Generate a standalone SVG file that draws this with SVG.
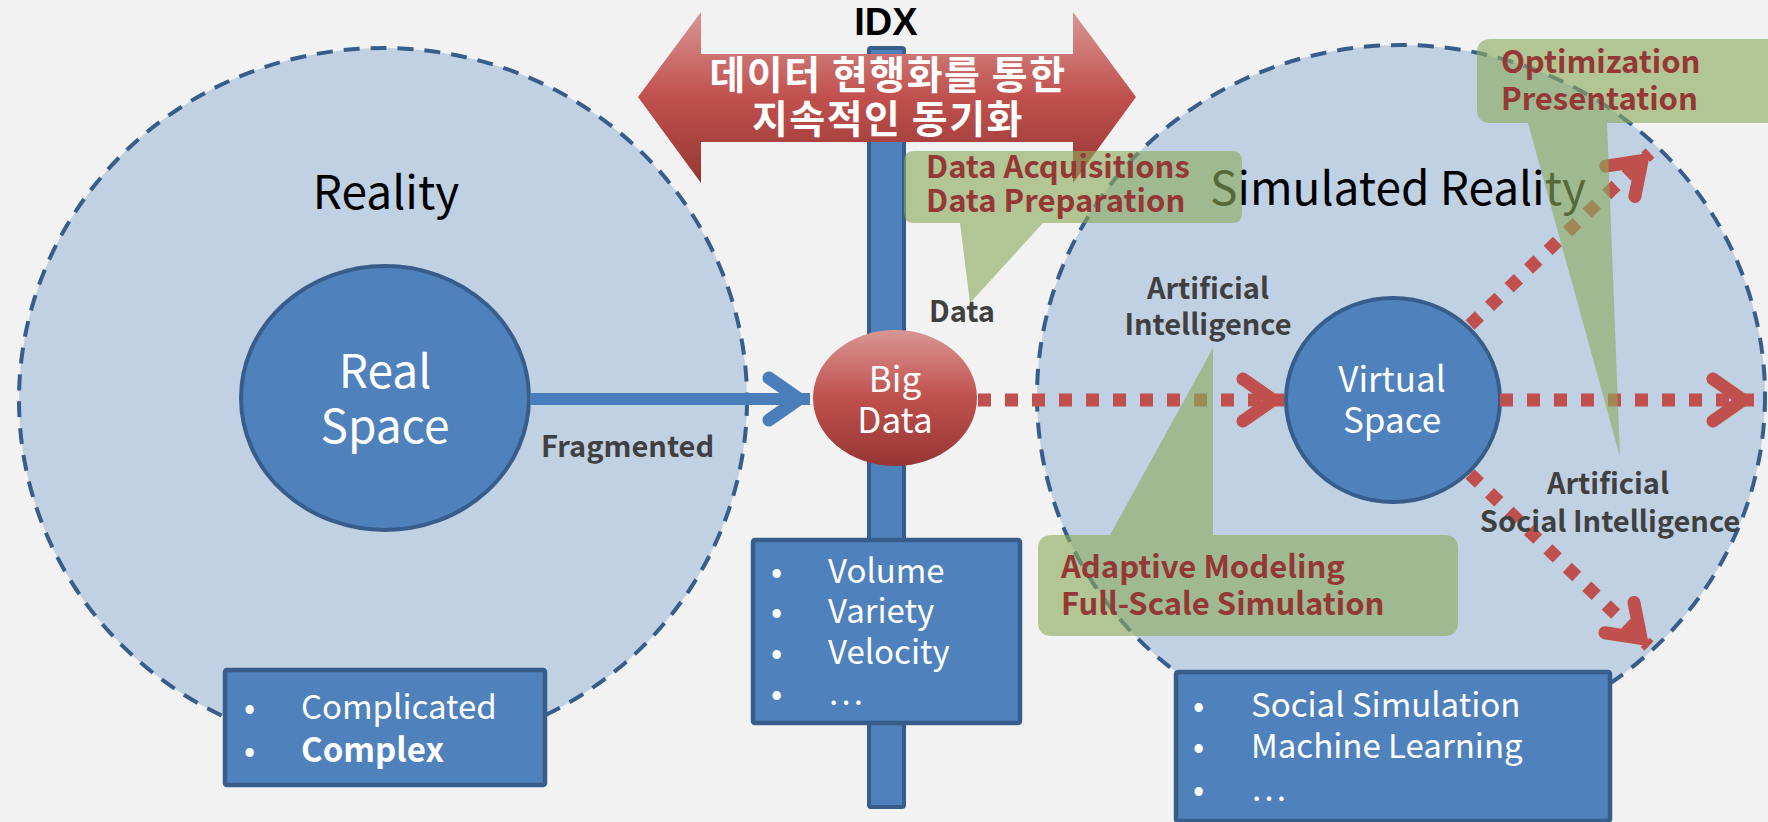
<svg xmlns="http://www.w3.org/2000/svg" width="1768" height="822" viewBox="0 0 1768 822">
  <defs>
    <linearGradient id="redGrad" x1="0" y1="0" x2="0" y2="1">
      <stop offset="0" stop-color="#d99694"/>
      <stop offset="0.5" stop-color="#c0504d"/>
      <stop offset="1" stop-color="#953735"/>
    </linearGradient>
    <marker id="chevRed" markerUnits="userSpaceOnUse" viewBox="-60 -40 80 80" markerWidth="80" markerHeight="80" refX="0" refY="0" orient="auto" overflow="visible">
      <path d="M-41,-21 L-11,0 L-41,21" fill="none" stroke="#c0504d" stroke-width="13" stroke-linecap="round" stroke-linejoin="miter"/>
    </marker>
    <marker id="chevBlue" markerUnits="userSpaceOnUse" viewBox="-60 -40 80 80" markerWidth="80" markerHeight="80" refX="0" refY="0" orient="auto" overflow="visible">
      <path d="M-41,-21 L-11,0 L-41,21" fill="none" stroke="#4a7ebb" stroke-width="13" stroke-linecap="round" stroke-linejoin="miter"/>
    </marker>
  </defs>
  <style>
    .zone { fill: #c1d1e4; stroke: #385d8a; stroke-width: 4; stroke-dasharray: 16 11; }
    .core { fill: #4f81bd; stroke: #385d8a; stroke-width: 4; }
    .box { fill: #4f81bd; stroke: #385d8a; stroke-width: 4.5; }
    .callout { fill: #8aaa5c; fill-opacity: 0.62; }
    .t { font-family: "Noto Sans CJK KR", "Noto Sans", sans-serif; }
    .title { font-size: 46px; fill: #000; text-anchor: middle; }
    .white { fill: #fff; }
    .mid { text-anchor: middle; }
    .label { font-size: 29px; font-weight: bold; fill: #404040; }
    .note { font-size: 31px; font-weight: bold; fill: #953735; }
    .list { font-size: 33px; fill: #fff; }
    .dots { fill: none; stroke: #c0504d; stroke-width: 13; stroke-dasharray: 13 14; }
  </style>

  <rect x="0" y="0" width="1768" height="822" fill="#f2f2f2"/>

  <!-- outer zones -->
  <g id="reality">
    <ellipse class="zone" cx="383" cy="400" rx="364" ry="352"/>
    <text class="t title" x="386" y="209">Reality</text>
  </g>
  <g id="simulated-reality">
    <ellipse class="zone" cx="1401" cy="396" rx="364" ry="351"/>
    <text class="t title" x="1398" y="205">Simulated Reality</text>
  </g>

  <!-- IDX pole -->
  <g id="idx">
    <rect x="869" y="48" width="35" height="759" rx="2" fill="#4f81bd" stroke="#385d8a" stroke-width="4"/>
    <text x="886" y="35" font-family="'Liberation Sans', Arial, sans-serif" font-size="38" font-weight="bold" text-anchor="middle" fill="#000">IDX</text>
  </g>

  <!-- inner spaces -->
  <g id="real-space">
    <ellipse class="core" cx="385" cy="398" rx="144" ry="132"/>
    <text class="t white mid" font-size="46"><tspan x="385" y="388">Real</tspan><tspan x="385" y="443">Space</tspan></text>
  </g>
  <g id="virtual-space">
    <ellipse class="core" cx="1393" cy="400" rx="107" ry="102"/>
    <text class="t white mid" font-size="35"><tspan x="1392" y="392">Virtual</tspan><tspan x="1392" y="433">Space</tspan></text>
  </g>

  <!-- connectors -->
  <g id="connectors">
    <line x1="530" y1="399" x2="810" y2="399" stroke="#4a7ebb" stroke-width="12" marker-end="url(#chevBlue)"/>
    <line class="dots" x1="978" y1="400" x2="1284" y2="400" marker-end="url(#chevRed)"/>
    <line class="dots" x1="1500" y1="400" x2="1754" y2="400" marker-end="url(#chevRed)"/>
    <line class="dots" x1="1470" y1="325" x2="1650" y2="153" marker-end="url(#chevRed)"/>
    <line class="dots" x1="1470" y1="474" x2="1649" y2="646" marker-end="url(#chevRed)"/>
  </g>

  <g id="big-data">
    <ellipse cx="895" cy="398" rx="82" ry="68" fill="url(#redGrad)"/>
    <text class="t white mid" font-size="35"><tspan x="895" y="392">Big</tspan><tspan x="895" y="433">Data</tspan></text>
  </g>

  <!-- edge labels -->
  <text class="t label" x="541" y="457">Fragmented</text>
  <text class="t label" x="929" y="322">Data</text>
  <text class="t label mid"><tspan x="1208" y="299">Artificial</tspan><tspan x="1208" y="335">Intelligence</tspan></text>
  <text class="t label mid"><tspan x="1608" y="494">Artificial</tspan><tspan x="1610" y="532">Social Intelligence</tspan></text>

  <!-- attribute lists -->
  <g id="real-list">
    <rect class="box" x="225" y="670" width="320" height="115" rx="2"/>
    <text class="t list"><tspan x="244" y="719">•</tspan><tspan x="301" y="719">Complicated</tspan><tspan x="244" y="762">•</tspan><tspan x="301" y="762" font-weight="bold">Complex</tspan></text>
  </g>
  <g id="bigdata-list">
    <rect class="box" x="753" y="540" width="267" height="183" rx="2"/>
    <text class="t list"><tspan x="771" y="583">•</tspan><tspan x="828" y="583">Volume</tspan><tspan x="771" y="623">•</tspan><tspan x="828" y="623">Variety</tspan><tspan x="771" y="664">•</tspan><tspan x="828" y="664">Velocity</tspan><tspan x="771" y="705">•</tspan><tspan x="828" y="705">…</tspan></text>
  </g>
  <g id="sim-list">
    <rect class="box" x="1176" y="672" width="434" height="149" rx="2"/>
    <text class="t list"><tspan x="1193" y="717">•</tspan><tspan x="1251" y="717">Social Simulation</tspan><tspan x="1193" y="758">•</tspan><tspan x="1251" y="758">Machine Learning</tspan><tspan x="1193" y="801">•</tspan><tspan x="1251" y="801">…</tspan></text>
  </g>

  <!-- synchronisation banner -->
  <g id="sync-arrow">
    <polygon points="638,97 701,12 701,54 1073,54 1073,12 1136,97 1073,183 1073,142 701,142 701,183" fill="url(#redGrad)"/>
    <text class="t white mid" font-size="39" font-weight="bold" letter-spacing="1.5"><tspan x="888" y="89">데이터 현행화를 통한</tspan><tspan x="888" y="133">지속적인 동기화</tspan></text>
  </g>

  <!-- callouts -->
  <g id="callout-data">
    <path class="callout" d="M914,151 H1232 Q1242,151 1242,161 V213 Q1242,223 1232,223 H1043 L970,303 L960,223 H914 Q904,223 904,213 V161 Q904,151 914,151 Z"/>
    <text class="t note"><tspan x="926" y="178">Data Acquisitions</tspan><tspan x="926" y="212">Data Preparation</tspan></text>
  </g>
  <g id="callout-model">
    <path class="callout" d="M1052,535 H1110 L1213,348 V535 H1444 Q1458,535 1458,549 V622 Q1458,636 1444,636 H1052 Q1038,636 1038,622 V549 Q1038,535 1052,535 Z"/>
    <text class="t note"><tspan x="1061" y="578">Adaptive Modeling</tspan><tspan x="1061" y="615">Full-Scale Simulation</tspan></text>
  </g>
  <g id="callout-opt">
    <path class="callout" d="M1491,39 H1790 V123 H1607 L1620,457 L1528,123 H1491 Q1477,123 1477,109 V53 Q1477,39 1491,39 Z"/>
    <text class="t note"><tspan x="1501" y="73">Optimization</tspan><tspan x="1501" y="110">Presentation</tspan></text>
  </g>
</svg>
